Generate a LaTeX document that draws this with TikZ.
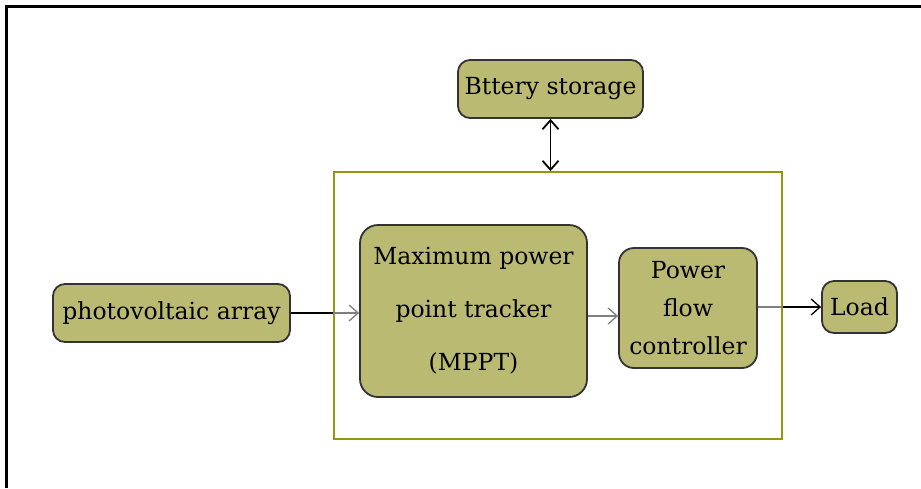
\documentclass[tikz,border=0pt]{standalone}
\usepackage{fontspec}
\setmainfont{DejaVu Serif}
\usetikzlibrary{arrows.meta}

\definecolor{boxfill}{RGB}{187,186,114}
\definecolor{frameol}{RGB}{150,150,10}

\tikzset{
  blk/.style={draw=black!80, line width=1.8pt, fill=boxfill, rounded corners=12pt,
    inner sep=0pt, align=center, font=\fontsize{23.5}{28}\selectfont},
  arr/.style={line width=1.3pt, -{Straight Barb[length=9pt,width=16pt]}},
}

\begin{document}
\begin{tikzpicture}[x=1pt,y=-1pt]
\useasboundingbox (0,0) rectangle (921,488);
\fill[white] (0,0) rectangle (921,488);
\draw[line width=3pt] (6,488)--(6,6)--(921,6);

\node[draw=frameol, line width=1.8pt, minimum width=448pt, minimum height=267pt] (ctrl) at (558,305.5) {};

\node[blk, minimum width=185pt, minimum height=58pt] (bat) at (550.5,89) {Bttery storage};
\node[blk, minimum width=237pt, minimum height=58pt] (pv) at (171.5,313) {photovoltaic array};
\node[blk, rounded corners=18pt, minimum width=227pt, minimum height=172pt,
  font=\fontsize{23.5}{53}\selectfont] (mppt) at (473.5,311) {Maximum power\\point tracker\\(MPPT)};
\node[blk, rounded corners=15pt, minimum width=138pt, minimum height=120pt,
  font=\fontsize{23.5}{38}\selectfont] (pfc) at (688,308) {Power\\flow\\controller};
\node[blk, minimum width=75pt, minimum height=52pt] (load) at (859.5,307) {Load};

\draw[arr, line width=1.8pt, {Straight Barb[length=9pt,width=16pt]}-{Straight Barb[length=9pt,width=16pt]}] (bat.south) -- (bat.south |- ctrl.north);

\draw[arr, gray] (pv.east) -- (pv.east -| mppt.west);
\draw[line width=1.3pt] (pv.east) -- (pv.east -| ctrl.west);

\coordinate (pin) at ([yshift=-8pt]pfc.west);
\draw[arr, gray] (pin -| mppt.east) -- (pin);

\draw[line width=1.3pt, gray] (load.west -| pfc.east) -- (load.west -| ctrl.east);
\draw[arr] (load.west -| ctrl.east) -- (load.west);
\end{tikzpicture}
\end{document}
